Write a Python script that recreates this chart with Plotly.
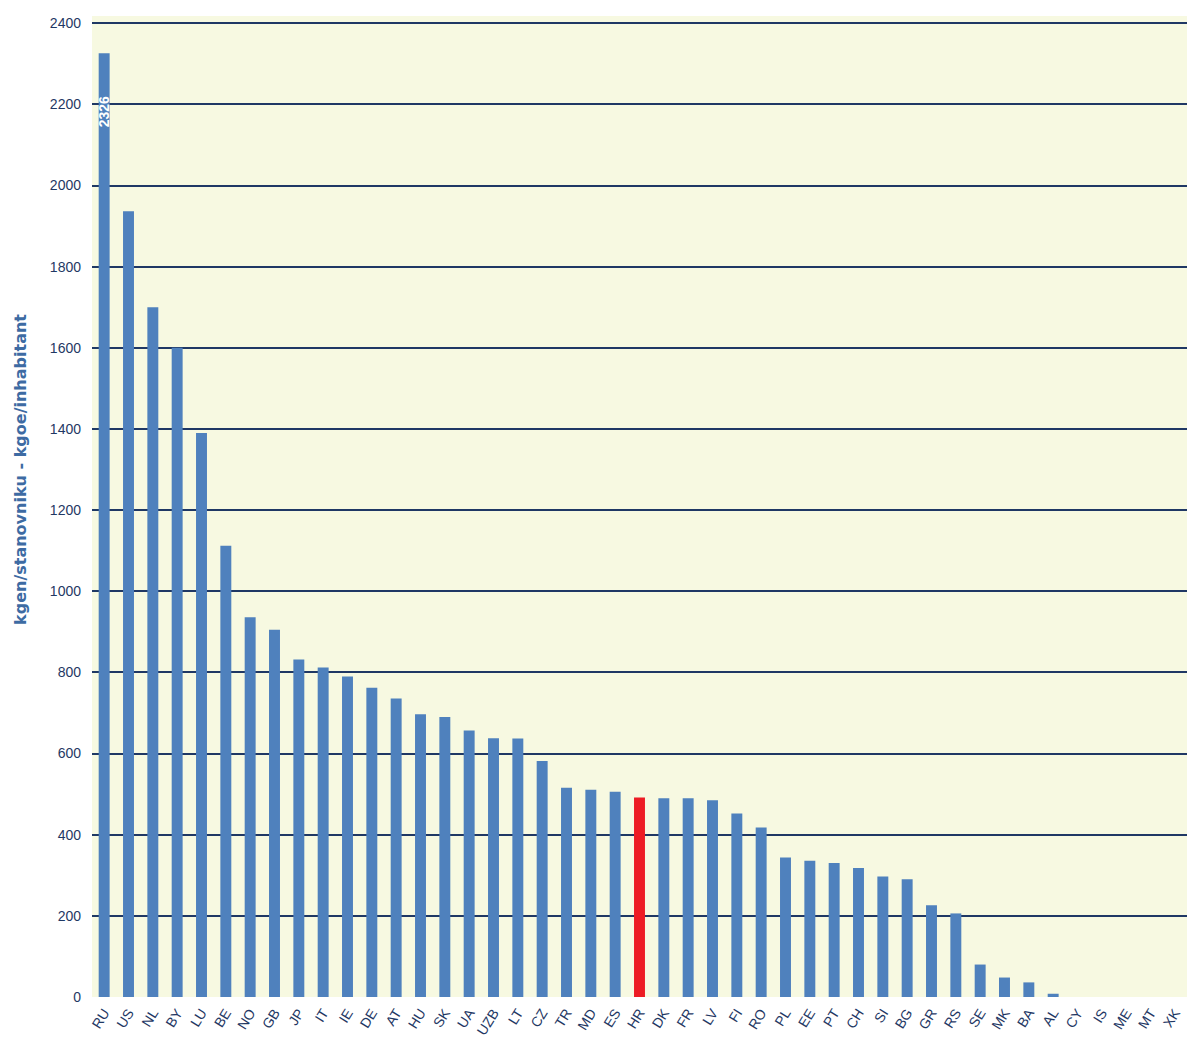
import plotly.graph_objects as go

countries = ["RU", "US", "NL", "BY", "LU", "BE", "NO", "GB", "JP", "IT", "IE", "DE", "AT", "HU", "SK",
             "UA", "UZB", "LT", "CZ", "TR", "MD", "ES", "HR", "DK", "FR", "LV", "FI", "RO", "PL", "EE",
             "PT", "CH", "SI", "BG", "GR", "RS", "SE", "MK", "BA", "AL", "CY", "IS", "ME", "MT", "XK"]
values = [2326, 1937, 1700, 1600, 1390, 1112, 936, 905, 832, 812, 790, 762, 736, 697, 690,
          657, 638, 637, 582, 516, 511, 506, 492, 490, 490, 485, 452, 418, 344, 336,
          330, 318, 297, 290, 226, 206, 80, 48, 36, 8, 0, 0, 0, 0, 0]
highlight = "HR"
y_ticks = [0, 200, 400, 600, 800, 1000, 1200, 1400, 1600, 1800, 2000, 2200, 2400]
y_title = "kgen/stanovniku - kgoe/inhabitant"

blue = "#4f81bd"
red = "#ed1c24"
navy = "#1f3864"

colors = [red if c == highlight else blue for c in countries]

fig = go.Figure()
fig.add_trace(go.Bar(
    x=countries, y=values,
    marker=dict(color=colors, line=dict(width=0)),
    width=0.45,
    hoverinfo="x+y",
))

# value label inside the tallest bar
fig.add_annotation(
    x=countries[0], y=values[0] - 145, text="<b>" + str(values[0]) + "</b>",
    textangle=-90, showarrow=False,
    font=dict(family="Liberation Sans Narrow, Liberation Sans, Arial", size=14, color="white"),
)

fig.add_annotation(
    xref="paper", yref="paper", x=-0.066, y=0.538,
    xanchor="center", yanchor="middle",
    text="<b>" + y_title + "</b>", textangle=-90, showarrow=False,
    font=dict(family="DejaVu Sans, Liberation Sans, Arial", size=16, color="#3d6ba3"),
)

fig.update_layout(
    width=1187, height=1057,
    margin=dict(l=92, r=0, t=16, b=60),
    paper_bgcolor="white",
    plot_bgcolor="#f7f9e1",
    showlegend=False,
    bargap=0.55,
    xaxis=dict(
        tickangle=-58,
        tickfont=dict(family="Liberation Sans, Arial", size=14, color=navy),
        showgrid=False, zeroline=False, showline=False,
        ticks="", range=[-0.5, len(countries) - 0.5],
        ticklabelstandoff=4,
    ),
    yaxis=dict(
        range=[0, 2418],
        tickvals=y_ticks,
        ticktext=[str(v) for v in y_ticks],
        tickfont=dict(family="Liberation Sans Narrow, Liberation Sans, Arial", size=14, color=navy),
        showgrid=True, gridcolor=navy, gridwidth=2,
        zeroline=False, showline=False, ticks="",
        ticklabelstandoff=10,
    ),
)

fig.write_html(
    "out.html",
    config={"displayModeBar": False},
    post_script="document.body.style.margin='0px'; document.body.style.overflow='hidden';",
)
